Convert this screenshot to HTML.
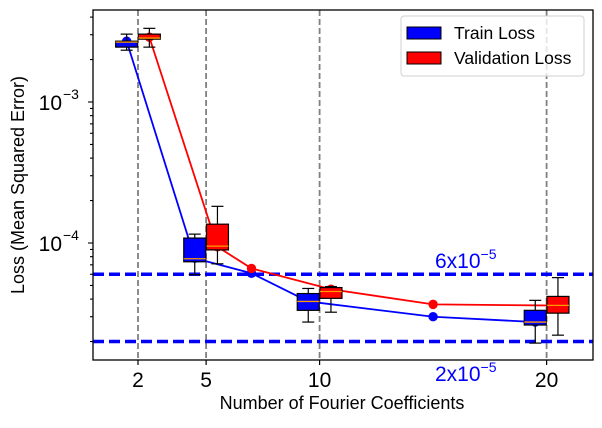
<!DOCTYPE html>
<html><head><meta charset="utf-8"><style>
html,body{margin:0;padding:0;background:#fff;}
svg text{font-family:"Liberation Sans","DejaVu Sans",sans-serif;}
</style></head><body>
<svg id="chart" width="602" height="423" xmlns="http://www.w3.org/2000/svg">
<rect width="602" height="423" fill="#fff"/>
<g id="grid"></g><g id="marks"></g><g id="axes"></g>
<text x="342" y="409" font-size="18" text-anchor="middle" fill="#000">Number of Fourier Coefficients</text>
<text transform="translate(24,185) rotate(-90)" font-size="18" text-anchor="middle" fill="#000">Loss (Mean Squared Error)</text>
<g>
  <rect x="401" y="16" width="183" height="60" rx="3" fill="#fff" fill-opacity="0.8" stroke="#d0d0d0"/>
  <rect x="407" y="27" width="34" height="12" fill="#0000ff" stroke="#000"/>
  <text x="454" y="39" font-size="17.5" fill="#000">Train Loss</text>
  <rect x="407" y="52" width="34" height="12" fill="#ff0000" stroke="#000"/>
  <text x="454" y="64" font-size="17.5" fill="#000">Validation Loss</text>
</g>
</svg>
<script>
const xTicks = [2, 5, 10, 20];
const trainX = [1.5, 4.5, 7, 9.5, 15, 19.5];
const trainLine = [2.70e-3, 7.8e-5, 6.1e-5, 3.85e-5, 3.0e-5, 2.75e-5];
const valX = [2.5, 5.5, 7, 10.5, 15, 20.5];
const valLine = [2.88e-3, 9.4e-5, 6.6e-5, 4.7e-5, 3.67e-5, 3.6e-5];
const boxPos = [2, 5, 10, 20];
// [whisker low, q1, median, q3, whisker high]
const trainBoxes = [
  [2.33e-3, 2.45e-3, 2.66e-3, 2.70e-3, 3.03e-3],
  [5.96e-5, 7.36e-5, 7.73e-5, 1.084e-4, 1.156e-4],
  [2.75e-5, 3.33e-5, 3.85e-5, 4.38e-5, 4.76e-5],
  [1.95e-5, 2.62e-5, 2.75e-5, 3.33e-5, 3.92e-5]
];
const valBoxes = [
  [2.45e-3, 2.79e-3, 2.84e-3, 3.03e-3, 3.33e-3],
  [7.12e-5, 8.93e-5, 9.5e-5, 1.36e-4, 1.82e-4],
  [3.23e-5, 4.05e-5, 4.53e-5, 4.83e-5, 4.91e-5],
  [2.22e-5, 3.18e-5, 3.61e-5, 4.18e-5, 5.68e-5]
];
const refLines = [6e-5, 2e-5];
const refLabels = ["6x10", "2x10"];
const refExp = ["−5", "−5"];

const L=93,R=593,T=10,B=360;
const X = v => 92.6 + v*22.7;
const Y = v => 243 - (Math.log10(v) + 4) * 141;
const NS="http://www.w3.org/2000/svg";
function mk(tag, attrs, parent){const e=document.createElementNS(NS,tag);for(const k in attrs)e.setAttribute(k,attrs[k]);parent.appendChild(e);return e;}
const grid=document.getElementById('grid'), marks=document.getElementById('marks'), axes=document.getElementById('axes');

xTicks.forEach(t=>{
  const l=mk('line',{x1:X(t),x2:X(t),y1:T,y2:B,stroke:'#808080','stroke-width':1.8,'stroke-dasharray':'6,3'},grid);
  
  
});
refLines.forEach((v,i)=>{
  const l=mk('line',{x1:L,x2:R,y1:Y(v),y2:Y(v),stroke:'#0000ff','stroke-width':3.5,'stroke-dasharray':'11,5'},grid);
  
  
});

function drawLine(xs, ys, color, name){
  const p=mk('polyline',{points:xs.map((x,i)=>X(x)+','+Y(ys[i])).join(' '),fill:'none',stroke:color,'stroke-width':1.8},marks);
  
  
  xs.forEach((x,i)=>{
    const c=mk('circle',{cx:X(x),cy:Y(ys[i]),r:4.7,fill:color},marks);
    
    
  });
}
drawLine(trainX,trainLine,'#0000ff','train');
drawLine(valX,valLine,'#ff0000','validation');

function drawBox(pos, b, color, name){
  const g=mk('g',{},marks);
  
  
  const cx=X(pos), w=22, cap=6;
  mk('line',{x1:cx,x2:cx,y1:Y(b[0]),y2:Y(b[1]),stroke:'#000','stroke-width':1.2},g);
  mk('line',{x1:cx,x2:cx,y1:Y(b[3]),y2:Y(b[4]),stroke:'#000','stroke-width':1.2},g);
  mk('line',{x1:cx-cap,x2:cx+cap,y1:Y(b[0]),y2:Y(b[0]),stroke:'#000','stroke-width':1.2},g);
  mk('line',{x1:cx-cap,x2:cx+cap,y1:Y(b[4]),y2:Y(b[4]),stroke:'#000','stroke-width':1.2},g);
  mk('rect',{x:cx-w/2,y:Y(b[3]),width:w,height:Y(b[1])-Y(b[3]),fill:color,stroke:'#000','stroke-width':1.2},g);
  mk('line',{x1:cx-w/2,x2:cx+w/2,y1:Y(b[2]),y2:Y(b[2]),stroke:'#ff9900','stroke-width':1.3},g);
}
boxPos.forEach((p,i)=>{
  drawBox(p-0.5,trainBoxes[i],'#0000ff','train-box-'+p);
  drawBox(p+0.5,valBoxes[i],'#ff0000','validation-box-'+p);
});

const fr=mk('rect',{x:L,y:T,width:R-L,height:B-T,fill:'none',stroke:'#000','stroke-width':1.3},axes);


xTicks.forEach(t=>{
  mk('line',{x1:X(t),x2:X(t),y1:B,y2:B+5,stroke:'#000','stroke-width':1.2},axes);
  const tx=mk('text',{x:X(t),y:B+27,'font-size':21,'text-anchor':'middle',fill:'#000'},axes);
  tx.textContent=t;
  
  
});
for(let e=-5;e<=-3;e++){
  for(let m=1;m<10;m++){
    const v=m*Math.pow(10,e), y=Y(v);
    if(y<T||y>B) continue;
    mk('line',{x1:L,x2:L-(m===1?5:3),y1:y,y2:y,stroke:'#000','stroke-width':1.1},axes);
    if(m===1){
      const tx=mk('text',{x:62,y:y+8,'font-size':21,'text-anchor':'end',fill:'#000'},axes);
      tx.textContent='10';
      
      
      const sp=mk('text',{x:63,y:y-3,'font-size':14,'text-anchor':'start',fill:'#000'},axes);
      sp.textContent='−'+(-e);
    }
  }
}
refLines.forEach((v,i)=>{
  const yy = i===0 ? 268 : 381;
  const tx=mk('text',{x:435,y:yy,'font-size':21,fill:'#0000ff'},axes);
  
  
  const a=mk('tspan',{},tx); a.textContent=refLabels[i];
  const b=mk('tspan',{dy:-9,'font-size':14},tx); b.textContent=refExp[i];
});
</script>
</body></html>
